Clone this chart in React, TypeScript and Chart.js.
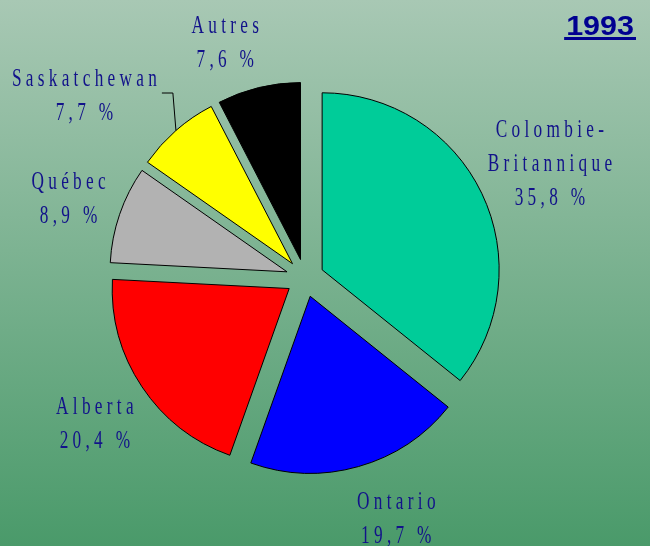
import { useEffect, useRef } from 'react';
import { Chart, registerables } from 'chart.js';

Chart.register(...registerables);

// ---- data ----
const categories = ['Colombie-Britannique', 'Ontario', 'Alberta', 'Québec', 'Saskatchewan', 'Autres'];
const shares = [35.8, 19.7, 20.4, 8.9, 7.7, 7.6];
const chartTitle = '1993';

// ---- styles ----
const sliceColors = ['#00CC99', '#0000FF', '#FF0000', '#B2B2B2', '#FFFF00', '#000000'];
const labelAngleNudge = [0.7, -4.9, -1.1, -0.7, -9.3, -5.1]; // degrees from slice mid-angle
const labelDistance = [270, 258, 256, 249, 286, 248]; // px from pie centre
const labelLeader = [false, false, false, false, true, false];
const EXPLODE = 19;
const PIE_RADIUS = 177;
const FONT_SIZE = 25;
const LINE_H = 34;
const SCALE_X = 0.69;
const LETTER_SP = 4.3;
const LABEL_COLOR = '#12128A';
const TITLE_COLOR = '#000090';
const TITLE_SCALE_X = 1.13;

function drawSpaced(ctx: CanvasRenderingContext2D, text: string, cx: number, y: number, doDraw = true): number {
  const chars = Array.from(text);
  let w = 0;
  const widths = chars.map((c) => ctx.measureText(c).width * SCALE_X);
  widths.forEach((cw, i) => {
    w += cw + (i < chars.length - 1 ? LETTER_SP : 0);
  });
  if (doDraw) {
    let x = cx - w / 2;
    chars.forEach((c, i) => {
      ctx.save();
      ctx.translate(x, y);
      ctx.scale(SCALE_X, 1);
      ctx.fillText(c, 0, 0);
      ctx.restore();
      x += widths[i] + LETTER_SP;
    });
  }
  return w;
}

const explodePlugin = {
  id: 'explode',
  afterDatasetUpdate(chart: any, args: any) {
    const meta = chart.getDatasetMeta(args.index);
    meta.data.forEach((arc: any) => {
      const mid = (arc.startAngle + arc.endAngle) / 2;
      arc.x += Math.cos(mid) * EXPLODE;
      arc.y += Math.sin(mid) * EXPLODE;
    });
  },
};

const labelPlugin = {
  id: 'pieLabels',
  afterDatasetsDraw(chart: any) {
    const { ctx, chartArea } = chart;
    const cx = (chartArea.left + chartArea.right) / 2;
    const cy = (chartArea.top + chartArea.bottom) / 2;
    const meta = chart.getDatasetMeta(0);
    ctx.save();
    ctx.font = `${FONT_SIZE}px "Liberation Serif", "Times New Roman", serif`;
    ctx.fillStyle = LABEL_COLOR;
    ctx.textBaseline = 'middle';
    ctx.textAlign = 'left';
    meta.data.forEach((arc: any, i: number) => {
      const mid = (arc.startAngle + arc.endAngle) / 2;
      const a = mid + (labelAngleNudge[i] * Math.PI) / 180;
      const lx = cx + Math.cos(a) * labelDistance[i];
      const ly = cy + Math.sin(a) * labelDistance[i];
      const lines = [
        ...categories[i].replace('-', '-\n').split('\n'),
        `${shares[i].toFixed(1).replace('.', ',')} %`,
      ];
      const top = ly - ((lines.length - 1) * LINE_H) / 2;
      lines.forEach((line, k) => drawSpaced(ctx, line, lx, top + k * LINE_H));
      if (labelLeader[i]) {
        const w0 = drawSpaced(ctx, lines[0], lx, 0, false);
        const sx = lx + w0 / 2 + 5;
        const sy = ly - 3;
        const ex = arc.x + Math.cos(mid) * arc.outerRadius;
        const ey = arc.y + Math.sin(mid) * arc.outerRadius;
        ctx.save();
        ctx.strokeStyle = '#000000';
        ctx.lineWidth = 1;
        ctx.beginPath();
        ctx.moveTo(sx, sy);
        ctx.lineTo(sx + 11, sy);
        ctx.lineTo(ex, ey);
        ctx.stroke();
        ctx.restore();
      }
    });
    // title
    ctx.font = 'bold 27px "Liberation Sans", Arial, sans-serif';
    ctx.fillStyle = TITLE_COLOR;
    ctx.textAlign = 'left';
    ctx.textBaseline = 'alphabetic';
    const right = chart.width - 16;
    const tw = ctx.measureText(chartTitle).width * TITLE_SCALE_X;
    ctx.save();
    ctx.translate(right - tw, 35);
    ctx.scale(TITLE_SCALE_X, 1);
    ctx.fillText(chartTitle, 0, 0);
    ctx.restore();
    ctx.fillRect(right - tw - 2, 37, tw + 4, 3);
    ctx.restore();
  },
};

export default function App() {
  const ref = useRef<HTMLCanvasElement>(null);
  useEffect(() => {
    const chart = new Chart(ref.current!, {
      type: 'pie',
      data: {
        labels: categories,
        datasets: [
          {
            data: shares,
            backgroundColor: sliceColors,
            borderColor: '#000000',
            borderWidth: 1,
          },
        ],
      },
      options: {
        responsive: false,
        maintainAspectRatio: false,
        devicePixelRatio: 1,
        animation: false,
        events: [],
        radius: PIE_RADIUS,
        layout: { padding: { left: 0, right: 40, top: 10, bottom: 0 } },
        plugins: {
          legend: { display: false },
          tooltip: { enabled: false },
          title: { display: false },
        },
      } as any,
      plugins: [explodePlugin, labelPlugin],
    });
    return () => chart.destroy();
  }, []);
  return (
    <div
      style={{
        position: 'fixed',
        left: 0,
        top: 0,
        width: 650,
        height: 546,
        background: 'linear-gradient(to bottom, #a8c8b4 0%, #4a9a6a 100%)',
      }}
    >
      <canvas ref={ref} width={650} height={546} style={{ display: 'block', width: 650, height: 546 }} />
    </div>
  );
}
